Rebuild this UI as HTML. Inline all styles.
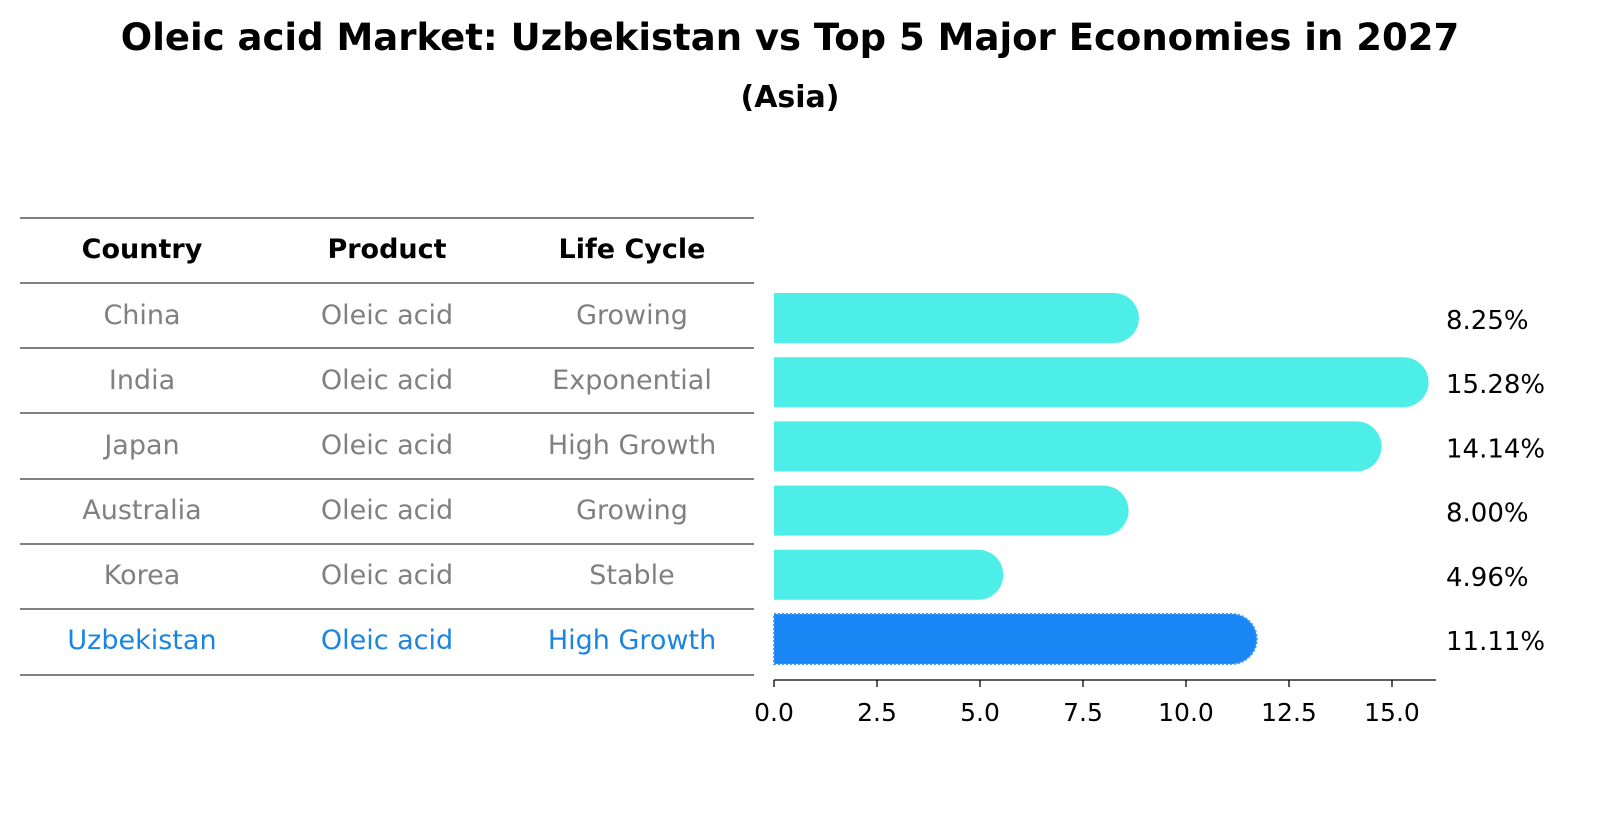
<!DOCTYPE html>
<html><head><meta charset="utf-8"><style>
body{margin:0;background:#fff;font-family:"Liberation Sans","DejaVu Sans",sans-serif}
</style></head><body>
<svg width="1604" height="823" xmlns="http://www.w3.org/2000/svg" font-family="DejaVu Sans, Liberation Sans, sans-serif">
<text x="790" y="50" text-anchor="middle" font-size="37" font-weight="bold">Oleic acid Market: Uzbekistan vs Top 5 Major Economies in 2027</text>
<text x="790" y="107" text-anchor="middle" font-size="30" font-weight="bold">(Asia)</text>
<g id="table"></g>
<g id="bars"></g>
<g id="axis"></g>
</svg>
<script>
const countries=["China","India","Japan","Australia","Korea","Uzbekistan"];
const products=["Oleic acid","Oleic acid","Oleic acid","Oleic acid","Oleic acid","Oleic acid"];
const cycles=["Growing","Exponential","High Growth","Growing","Stable","High Growth"];
const values=[8.25,15.28,14.14,8.00,4.96,11.11];
const ticks=[0,2.5,5,7.5,10,12.5,15];
const NS="http://www.w3.org/2000/svg";
function mk(t,a,p){const e=document.createElementNS(NS,t);for(const k in a)e.setAttribute(k,a[k]);p.appendChild(e);return e;}
const x=v=>774+v*41.2;
const rowY=i=>318+i*64.2;
const tb=document.getElementById('table');
const lines=[218,283,348,413,479,544,609,675];
lines.forEach(y=>{const l=mk('line',{x1:20,x2:754,y1:y,y2:y,stroke:'#000','stroke-width':0.9},tb);

});
const cx=[142,387,632];
["Country","Product","Life Cycle"].forEach((h,j)=>{const t=mk('text',{x:cx[j],y:258,'text-anchor':'middle','font-size':27,'font-weight':'bold'},tb);t.textContent=h;

});
const textY=[315,380,445,510,575,640];
countries.forEach((c,i)=>{const col=i==5?'#1a85e0':'#808080';
[c,products[i],cycles[i]].forEach((s,j)=>{const t=mk('text',{x:cx[j],y:textY[0]+i*65+9,'text-anchor':'middle','font-size':27,fill:col},tb);t.textContent=s;

});});
const bg=document.getElementById('bars');
const h=50,r=25;
values.forEach((v,i)=>{const y=rowY(i)-h/2,x0=x(0),x1=x(v);
const col=i==5?'#1a85f5':'#4deee8';
const p=mk('path',{d:`M${x0},${y}H${x1}A${r},${r} 0 0 1 ${x1},${y+h}H${x0}Z`,fill:col},bg);
if(i==5){p.setAttribute('stroke','#3a9af8');p.setAttribute('stroke-dasharray','2,2');p.setAttribute('stroke-width','2');}


const t=mk('text',{x:1446,y:rowY(i)+11,'font-size':26},bg);t.textContent=v.toFixed(2)+'%';

});
const ax=document.getElementById('axis');
mk('line',{x1:774,x2:1436,y1:680,y2:680,stroke:'#000','stroke-width':1.3},ax);
ticks.forEach(v=>{mk('line',{x1:x(v),x2:x(v),y1:680,y2:687,stroke:'#000','stroke-width':1.3},ax);
const t=mk('text',{x:x(v),y:721,'text-anchor':'middle','font-size':25},ax);t.textContent=v.toFixed(1);

});
</script>
</body></html>
